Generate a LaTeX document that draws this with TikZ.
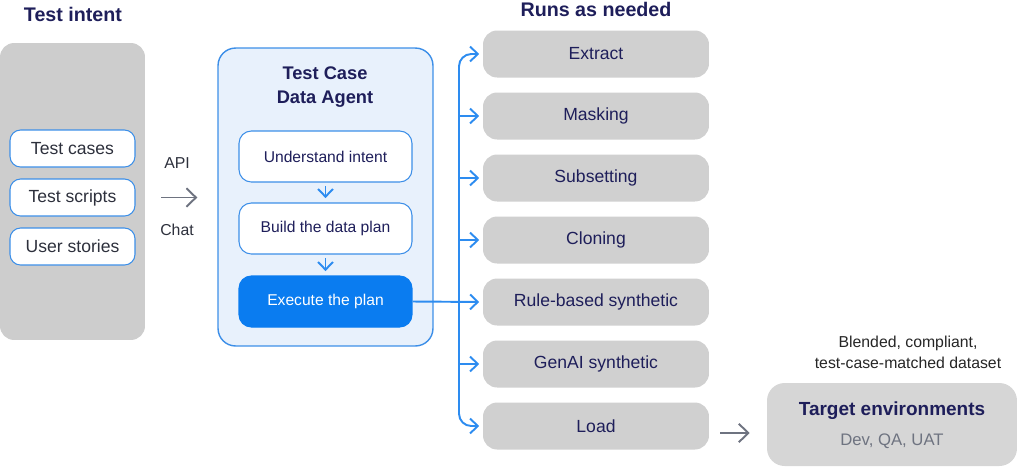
\documentclass[tikz,border=0pt]{standalone}
\usepackage{fontspec}
\setmainfont{Liberation Sans}
\usetikzlibrary{arrows.meta,positioning,calc}

\definecolor{panelgray}{RGB}{205,205,205}
\definecolor{boxgray}{RGB}{208,208,208}
\definecolor{targetgray}{RGB}{214,214,214}
\definecolor{agentfill}{RGB}{232,241,252}
\definecolor{agentblue}{RGB}{61,143,232}
\definecolor{lineblue}{RGB}{45,140,240}
\definecolor{exeblue}{RGB}{10,124,240}
\definecolor{navy}{RGB}{30,30,90}
\definecolor{arrowgray}{RGB}{110,115,128}
\definecolor{textdark}{RGB}{45,48,60}

\begin{document}
\begin{tikzpicture}[x=0.02cm, y=-0.02cm,
  title/.style={font=\fontsize{11.2}{13.6}\selectfont\bfseries, text=navy, align=center},
  intentbox/.style={draw=agentblue, fill=white, rounded corners=6pt, line width=0.6pt,
    minimum width=2.5cm, minimum height=0.74cm, text=textdark, font=\fontsize{10}{12}\selectfont},
  stepbox/.style={draw=agentblue, fill=white, rounded corners=7pt, line width=0.6pt,
    minimum width=3.46cm, minimum height=1.02cm, text=navy, font=\fontsize{8.9}{11}\selectfont},
  runbox/.style={fill=boxgray, rounded corners=8pt, minimum width=4.52cm, minimum height=0.94cm,
    text=navy, font=\fontsize{10}{12}\selectfont},
  bluearrow/.style={draw=lineblue, line width=1.1pt, -{Straight Barb[length=4.4pt,width=8.5pt]}},
  grayarrow/.style={draw=arrowgray, line width=1.1pt, -{Straight Barb[length=5.4pt,width=10.5pt]}},
  small/.style={font=\fontsize{9}{12}\selectfont}]
\useasboundingbox (0,0) rectangle (1024,468);
% Test intent column
\node[title] (intentT) at (73,14) {Test intent};
\node[fill=panelgray, rounded corners=8pt, minimum width=2.9cm, minimum height=5.94cm] (intent) at (72.5,191.5) {};
\node[intentbox] (tcases) at (72.5,148.5) {Test cases};
\node[intentbox] (tscripts) at (72.5,197.5) {Test scripts};
\node[intentbox] (ustories) at (72.5,246.5) {User stories};
% Agent
\node[draw=agentblue, fill=agentfill, line width=0.8pt, rounded corners=10pt,
  minimum width=4.3cm, minimum height=5.96cm] (agent) at (325.5,197) {};
\node[title, font=\fontsize{10.4}{13.6}\selectfont\bfseries] (agentT) at (325,87) {Test Case\\Data Agent};
\node[stepbox] (understand) at (325.5,156.5) {Understand intent};
\node[stepbox] (build) at (325.5,228.5) {Build the data plan};
\node[stepbox, draw=exeblue, fill=exeblue, text=white] (exe) at (325.5,301.5) {Execute the plan};
\draw[bluearrow, shorten <=2pt, shorten >=2.5pt] (understand) -- (build);
\draw[bluearrow, shorten <=2pt, shorten >=2.5pt] (build) -- (exe);
% API / Chat
\draw[grayarrow, shorten <=0.32cm, shorten >=0.4cm] (intent.east |- tscripts) -- (agent.west |- tscripts)
  node[pos=0.44, above=0.44cm, small, text=textdark] (api) {API}
  node[pos=0.44, below=0.4cm, small, text=textdark] (chat) {Chat};
% Runs as needed
\node[title] (runsT) at (596,9) {Runs as needed};
\foreach \n/\t [count=\i from 0] in {extract/Extract, masking/Masking, subsetting/Subsetting,
    cloning/Cloning, rule/Rule-based synthetic, genai/GenAI synthetic, load/Load} {
  \node[runbox] (\n) at (596,54+62*\i) {\t};
}
\coordinate (bus) at (459,240);
\draw[bluearrow, shorten >=2pt] (exe.east) -- (rule.west);
\draw[bluearrow, rounded corners=7pt, shorten >=2pt] (bus |- rule.west) |- (extract.west);
\draw[bluearrow, rounded corners=7pt, shorten >=2pt] (bus |- rule.west) |- (load.west);
\foreach \n in {masking,subsetting,cloning,genai}
  \draw[bluearrow, shorten >=2pt] (bus |- \n.west) -- (\n.west);
% Target
\node[fill=targetgray, rounded corners=10pt, minimum width=5cm, minimum height=1.66cm] (target) at (892,424.5) {};
\node[title, font=\fontsize{10.8}{13}\selectfont\bfseries] (targetT) at (892,411) {Target environments};
\node[small, font=\fontsize{9.5}{12}\selectfont, text=arrowgray] (targetS) at (892,441) {Dev, QA, UAT};
\node[small, align=center, text=black!85] (blended) at (908,352) {Blended, compliant,\\test-case-matched dataset};
\draw[grayarrow, shorten <=0.22cm, shorten >=0.34cm] ([yshift=-0.14cm]load.east) -- ([yshift=-0.14cm]load.east -| target.west);
\end{tikzpicture}
\end{document}
